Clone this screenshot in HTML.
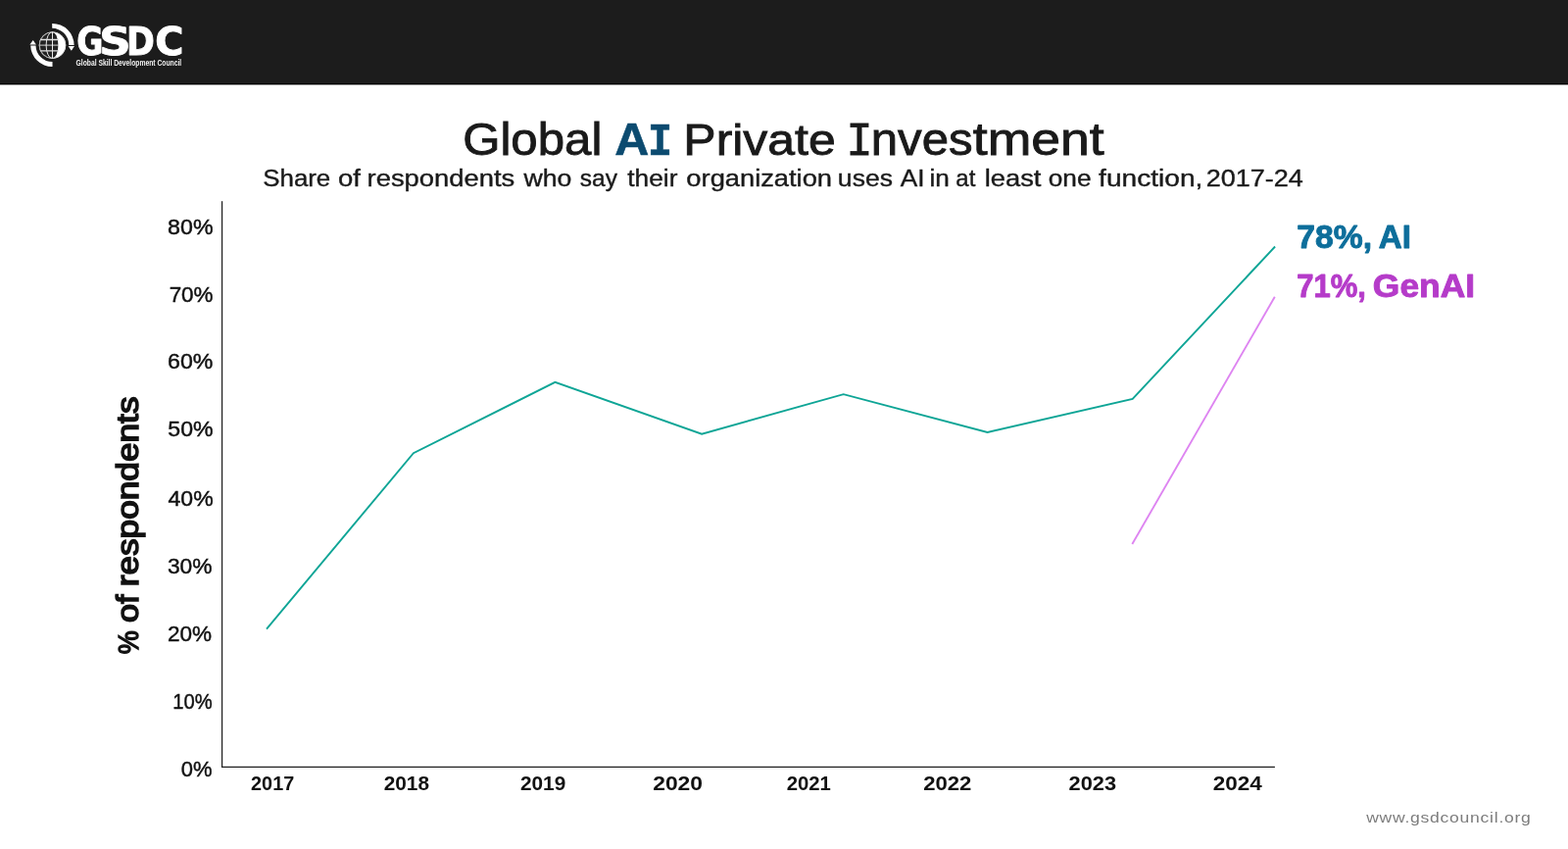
<!DOCTYPE html>
<html lang="en">
<head>
<meta charset="utf-8">
<title>Global AI Private Investment</title>
<style>
html,body{margin:0;padding:0;background:#fff;}
body{width:1600px;height:866px;overflow:hidden;position:relative;font-family:"Liberation Sans",sans-serif;}
svg{position:absolute;left:0;top:0;display:block;}
text{font-family:"Liberation Sans",sans-serif;white-space:pre;}
</style>
</head>
<body>
<svg width="1600" height="866" viewBox="0 0 1600 866">
  <!-- header bar -->
  <rect x="0" y="0" width="1600" height="85" fill="#1c1c1c"/>
  <rect x="0" y="85" width="1600" height="1" fill="#000"/>
  <rect x="0" y="86" width="1600" height="1" fill="#8a8a8a"/>
  <!-- logo icon -->
  <defs>
    <clipPath id="globeclip"><circle cx="53.5" cy="46.1" r="13.6"/></clipPath>
  </defs>
  <g id="logoicon">
    <circle cx="53.5" cy="46.1" r="13.7" fill="#fff"/>
    <g clip-path="url(#globeclip)">
      <ellipse cx="53.5" cy="46.1" rx="6.4" ry="13.6" fill="#222"/>
      <path d="M53.5,32.5 A13.6 13.6 0 0 0 53.5,59.7 Z" fill="#222"/>
      <ellipse cx="53.5" cy="46.1" rx="6.4" ry="13.6" fill="none" stroke="#fff" stroke-width="0.9"/>
      <line x1="53.5" y1="32" x2="53.5" y2="60" stroke="#fff" stroke-width="0.9"/>
      <line x1="39" y1="46.1" x2="60" y2="46.1" stroke="#fff" stroke-width="0.8"/>
      <line x1="39" y1="40.5" x2="60" y2="40.5" stroke="#e0e0e0" stroke-width="1.3"/>
      <line x1="39" y1="51.9" x2="60" y2="51.9" stroke="#e0e0e0" stroke-width="1.3"/>
    </g>
    <circle cx="53.5" cy="46.1" r="13.3" fill="none" stroke="#d8d8d8" stroke-width="0.8"/>
    <path d="M53.2,23.9 A22.2 22.2 0 0 1 75.6,45.9 L70.3,45.9 A17.2 17.2 0 0 0 53.2,28.8 Z" fill="#fff"/>
    <path d="M69.6,46.9 L76,46.9 L72.8,51.7 Z" fill="#fff"/>
    <path d="M31.2,46.4 A22.2 22.2 0 0 0 53.5,68.1 L53.5,63.1 A17.1 17.1 0 0 1 36.5,46.4 Z" fill="#fff"/>
    <path d="M30.4,45.4 L36.9,45.4 L33.7,41 Z" fill="#fff"/>
  </g>

  <!-- axes -->
  <rect id="yaxis" x="225.95" y="205.2" width="1.25" height="577.8" fill="#202020"/>
  <rect id="xaxis" x="225.95" y="781.75" width="1074.95" height="1.25" fill="#202020"/>
  <!-- data lines -->
  <polyline id="line_ai" fill="none" stroke="#0ea596" stroke-width="1.9" stroke-linejoin="miter" points="272,641.6 421.9,462.2 566.4,389.9 716.1,442.7 860.7,402.2 1007.6,440.9 1155.7,407 1301.1,251.5"/>
  <polyline id="line_gen" fill="none" stroke="#de85f1" stroke-width="1.9" points="1155.3,555 1300.8,302.8"/>
  <!-- text -->
  <text id="grp_gsdc"><tspan id="g_g" x="78.20" y="56.10" font-size="38.3" fill="#fff" textLength="27.19" lengthAdjust="spacingAndGlyphs" style="font-family:'DejaVu Sans','Liberation Sans',sans-serif;font-weight:bold;" stroke="#fff" stroke-width="0.9" stroke-linejoin="round">G</tspan><tspan id="g_s" x="101.21" y="56.10" font-size="38.3" fill="#fff" textLength="32.35" lengthAdjust="spacingAndGlyphs" style="font-family:'DejaVu Sans','Liberation Sans',sans-serif;font-weight:bold;" stroke="#fff" stroke-width="0.9" stroke-linejoin="round">S</tspan><tspan id="g_d" x="129.02" y="56.10" font-size="38.3" fill="#fff" textLength="28.89" lengthAdjust="spacingAndGlyphs" style="font-family:'DejaVu Sans','Liberation Sans',sans-serif;font-weight:bold;" stroke="#fff" stroke-width="0.9" stroke-linejoin="round">D</tspan><tspan id="g_c" x="158.15" y="56.10" font-size="38.3" fill="#fff" textLength="29.20" lengthAdjust="spacingAndGlyphs" style="font-family:'DejaVu Sans','Liberation Sans',sans-serif;font-weight:bold;" stroke="#fff" stroke-width="0.9" stroke-linejoin="round">C</tspan></text>
  <text id="grp_gsub"><tspan id="gsub" x="77.50" y="67.25" font-size="9" fill="#f2f2f2" textLength="107.75" lengthAdjust="spacingAndGlyphs" style="font-family:'Liberation Sans',sans-serif;font-weight:bold;">Global Skill Development Council</tspan></text>
  <text id="grp_title"><tspan id="t_global" x="472.19" y="157.60" font-size="45.3" fill="#1a1a1a" textLength="142.12" lengthAdjust="spacingAndGlyphs" style="font-family:'Liberation Sans',sans-serif;" stroke="#1a1a1a" stroke-width="0.85">Global</tspan> <tspan id="t_a" x="627.29" y="157.50" font-size="45.8" fill="#0c4b70" textLength="35.01" lengthAdjust="spacingAndGlyphs" style="font-family:'Liberation Sans',sans-serif;font-weight:bold;" stroke="#0c4b70" stroke-width="0.6">A</tspan><tspan id="t_i" x="660.93" y="157.50" font-size="47.0" fill="#0c4b70" textLength="25.02" lengthAdjust="spacingAndGlyphs" style="font-family:'Liberation Mono',monospace;font-weight:bold;" stroke="#0c4b70" stroke-width="0.6">I</tspan> <tspan id="t_private" x="697.33" y="157.60" font-size="45" fill="#1a1a1a" textLength="155.41" lengthAdjust="spacingAndGlyphs" style="font-family:'Liberation Sans',sans-serif;" stroke="#1a1a1a" stroke-width="0.85">Private</tspan> <tspan id="t_I" x="863.43" y="157.70" font-size="48.5" fill="#1a1a1a" textLength="27.00" lengthAdjust="spacingAndGlyphs" style="font-family:'Liberation Mono',monospace;" stroke="#1a1a1a" stroke-width="0.85">I</tspan><tspan id="t_nv" x="888.80" y="157.60" font-size="45.3" fill="#1a1a1a" textLength="103.76" lengthAdjust="spacingAndGlyphs" style="font-family:'Liberation Sans',sans-serif;" stroke="#1a1a1a" stroke-width="0.85">nves</tspan><tspan id="t_tm" x="992.77" y="157.60" font-size="45.3" fill="#1a1a1a" textLength="134.00" lengthAdjust="spacingAndGlyphs" style="font-family:'Liberation Sans',sans-serif;" stroke="#1a1a1a" stroke-width="0.85">tment</tspan></text>
  <text id="grp_subtitle"><tspan id="s0" x="268.26" y="190.00" font-size="24.8" fill="#1a1a1a" textLength="69.00" lengthAdjust="spacingAndGlyphs" style="font-family:'Liberation Sans',sans-serif;" stroke="#1a1a1a" stroke-width="0.4">Share</tspan> <tspan id="s1" x="344.97" y="190.00" font-size="24.8" fill="#1a1a1a" textLength="22.86" lengthAdjust="spacingAndGlyphs" style="font-family:'Liberation Sans',sans-serif;" stroke="#1a1a1a" stroke-width="0.4">of</tspan> <tspan id="s2" x="374.62" y="190.00" font-size="24.8" fill="#1a1a1a" textLength="150.62" lengthAdjust="spacingAndGlyphs" style="font-family:'Liberation Sans',sans-serif;" stroke="#1a1a1a" stroke-width="0.4">respondents</tspan> <tspan id="s3" x="534.45" y="190.00" font-size="24.8" fill="#1a1a1a" textLength="48.89" lengthAdjust="spacingAndGlyphs" style="font-family:'Liberation Sans',sans-serif;" stroke="#1a1a1a" stroke-width="0.4">who</tspan> <tspan id="s4" x="591.86" y="190.00" font-size="24.8" fill="#1a1a1a" textLength="38.14" lengthAdjust="spacingAndGlyphs" style="font-family:'Liberation Sans',sans-serif;" stroke="#1a1a1a" stroke-width="0.4">say</tspan> <tspan id="s5" x="640.32" y="190.00" font-size="24.8" fill="#1a1a1a" textLength="51.10" lengthAdjust="spacingAndGlyphs" style="font-family:'Liberation Sans',sans-serif;" stroke="#1a1a1a" stroke-width="0.4">their</tspan> <tspan id="s6" x="700.38" y="190.00" font-size="24.8" fill="#1a1a1a" textLength="148.65" lengthAdjust="spacingAndGlyphs" style="font-family:'Liberation Sans',sans-serif;" stroke="#1a1a1a" stroke-width="0.4">organization</tspan> <tspan id="s7" x="854.88" y="190.00" font-size="24.8" fill="#1a1a1a" textLength="56.04" lengthAdjust="spacingAndGlyphs" style="font-family:'Liberation Sans',sans-serif;" stroke="#1a1a1a" stroke-width="0.4">uses</tspan> <tspan id="s8" x="918.69" y="190.00" font-size="24.8" fill="#1a1a1a" textLength="24.77" lengthAdjust="spacingAndGlyphs" style="font-family:'Liberation Sans',sans-serif;" stroke="#1a1a1a" stroke-width="0.4">AI</tspan> <tspan id="s9" x="948.51" y="190.00" font-size="24.8" fill="#1a1a1a" textLength="20.39" lengthAdjust="spacingAndGlyphs" style="font-family:'Liberation Sans',sans-serif;" stroke="#1a1a1a" stroke-width="0.4">in</tspan> <tspan id="s10" x="975.36" y="190.00" font-size="24.8" fill="#1a1a1a" textLength="19.99" lengthAdjust="spacingAndGlyphs" style="font-family:'Liberation Sans',sans-serif;" stroke="#1a1a1a" stroke-width="0.4">at</tspan> <tspan id="s11" x="1004.71" y="190.00" font-size="24.8" fill="#1a1a1a" textLength="57.74" lengthAdjust="spacingAndGlyphs" style="font-family:'Liberation Sans',sans-serif;" stroke="#1a1a1a" stroke-width="0.4">least</tspan> <tspan id="s12" x="1069.77" y="190.00" font-size="24.8" fill="#1a1a1a" textLength="43.72" lengthAdjust="spacingAndGlyphs" style="font-family:'Liberation Sans',sans-serif;" stroke="#1a1a1a" stroke-width="0.4">one</tspan> <tspan id="s13" x="1121.14" y="190.00" font-size="24.8" fill="#1a1a1a" textLength="106.23" lengthAdjust="spacingAndGlyphs" style="font-family:'Liberation Sans',sans-serif;" stroke="#1a1a1a" stroke-width="0.4">function,</tspan> <tspan id="s14" x="1230.84" y="190.00" font-size="24.8" fill="#1a1a1a" textLength="99.07" lengthAdjust="spacingAndGlyphs" style="font-family:'Liberation Sans',sans-serif;" stroke="#1a1a1a" stroke-width="0.4">2017-24</tspan></text>
  <text id="grp_y0"><tspan id="y0" x="171.12" y="239.20" font-size="22.8" fill="#111" textLength="46.40" lengthAdjust="spacingAndGlyphs" style="font-family:'Liberation Sans',sans-serif;" stroke="#111" stroke-width="0.45">80%</tspan></text>
  <text id="grp_y1"><tspan id="y1" x="172.65" y="307.90" font-size="22.8" fill="#111" textLength="44.91" lengthAdjust="spacingAndGlyphs" style="font-family:'Liberation Sans',sans-serif;" stroke="#111" stroke-width="0.45">70%</tspan></text>
  <text id="grp_y2"><tspan id="y2" x="171.10" y="375.80" font-size="22.8" fill="#111" textLength="46.37" lengthAdjust="spacingAndGlyphs" style="font-family:'Liberation Sans',sans-serif;" stroke="#111" stroke-width="0.45">60%</tspan></text>
  <text id="grp_y3"><tspan id="y3" x="171.31" y="445.10" font-size="22.8" fill="#111" textLength="46.26" lengthAdjust="spacingAndGlyphs" style="font-family:'Liberation Sans',sans-serif;" stroke="#111" stroke-width="0.45">50%</tspan></text>
  <text id="grp_y4"><tspan id="y4" x="171.51" y="515.80" font-size="22.8" fill="#111" textLength="46.13" lengthAdjust="spacingAndGlyphs" style="font-family:'Liberation Sans',sans-serif;" stroke="#111" stroke-width="0.45">40%</tspan></text>
  <text id="grp_y5"><tspan id="y5" x="170.95" y="585.10" font-size="22.8" fill="#111" textLength="45.66" lengthAdjust="spacingAndGlyphs" style="font-family:'Liberation Sans',sans-serif;" stroke="#111" stroke-width="0.45">30%</tspan></text>
  <text id="grp_y6"><tspan id="y6" x="170.99" y="653.90" font-size="22.8" fill="#111" textLength="45.09" lengthAdjust="spacingAndGlyphs" style="font-family:'Liberation Sans',sans-serif;" stroke="#111" stroke-width="0.45">20%</tspan></text>
  <text id="grp_y7"><tspan id="y7" x="176.30" y="723.30" font-size="22.8" fill="#111" textLength="40.40" lengthAdjust="spacingAndGlyphs" style="font-family:'Liberation Sans',sans-serif;" stroke="#111" stroke-width="0.45">10%</tspan></text>
  <text id="grp_y8"><tspan id="y8" x="184.68" y="791.90" font-size="22.8" fill="#111" textLength="31.76" lengthAdjust="spacingAndGlyphs" style="font-family:'Liberation Sans',sans-serif;" stroke="#111" stroke-width="0.45">0%</tspan></text>
  <text id="grp_x0"><tspan id="x0" x="256.12" y="805.50" font-size="20.4" fill="#111" textLength="44.05" lengthAdjust="spacingAndGlyphs" style="font-family:'Liberation Sans',sans-serif;font-weight:bold;">2017</tspan></text>
  <text id="grp_x1"><tspan id="x1" x="391.75" y="805.50" font-size="20.4" fill="#111" textLength="46.24" lengthAdjust="spacingAndGlyphs" style="font-family:'Liberation Sans',sans-serif;font-weight:bold;">2018</tspan></text>
  <text id="grp_x2"><tspan id="x2" x="530.96" y="805.50" font-size="20.4" fill="#111" textLength="46.27" lengthAdjust="spacingAndGlyphs" style="font-family:'Liberation Sans',sans-serif;font-weight:bold;">2019</tspan></text>
  <text id="grp_x3"><tspan id="x3" x="666.21" y="805.50" font-size="20.4" fill="#111" textLength="50.79" lengthAdjust="spacingAndGlyphs" style="font-family:'Liberation Sans',sans-serif;font-weight:bold;">2020</tspan></text>
  <text id="grp_x4"><tspan id="x4" x="802.68" y="805.50" font-size="20.4" fill="#111" textLength="45.12" lengthAdjust="spacingAndGlyphs" style="font-family:'Liberation Sans',sans-serif;font-weight:bold;">2021</tspan></text>
  <text id="grp_x5"><tspan id="x5" x="942.28" y="805.50" font-size="20.4" fill="#111" textLength="49.14" lengthAdjust="spacingAndGlyphs" style="font-family:'Liberation Sans',sans-serif;font-weight:bold;">2022</tspan></text>
  <text id="grp_x6"><tspan id="x6" x="1090.63" y="805.50" font-size="20.4" fill="#111" textLength="48.45" lengthAdjust="spacingAndGlyphs" style="font-family:'Liberation Sans',sans-serif;font-weight:bold;">2023</tspan></text>
  <text id="grp_x7"><tspan id="x7" x="1237.73" y="805.50" font-size="20.4" fill="#111" textLength="49.97" lengthAdjust="spacingAndGlyphs" style="font-family:'Liberation Sans',sans-serif;font-weight:bold;">2024</tspan></text>
  <text id="grp_r_ai"><tspan id="r_ai1" x="1323.28" y="253.40" font-size="32.4" fill="#0d6e9b" textLength="76.78" lengthAdjust="spacingAndGlyphs" style="font-family:'Liberation Sans',sans-serif;font-weight:bold;" stroke="#0d6e9b" stroke-width="0.9" stroke-linejoin="round">78%,</tspan> <tspan id="r_ai2" x="1406.71" y="253.40" font-size="32.4" fill="#0d6e9b" textLength="33.16" lengthAdjust="spacingAndGlyphs" style="font-family:'Liberation Sans',sans-serif;font-weight:bold;" stroke="#0d6e9b" stroke-width="0.9" stroke-linejoin="round">AI</tspan></text>
  <text id="grp_r_gen"><tspan id="r_gen1" x="1323.32" y="303.30" font-size="32.4" fill="#b53bc9" textLength="70.62" lengthAdjust="spacingAndGlyphs" style="font-family:'Liberation Sans',sans-serif;font-weight:bold;" stroke="#b53bc9" stroke-width="0.9" stroke-linejoin="round">71%,</tspan> <tspan id="r_gen2" x="1400.88" y="303.30" font-size="32.4" fill="#b53bc9" textLength="104.23" lengthAdjust="spacingAndGlyphs" style="font-family:'Liberation Sans',sans-serif;font-weight:bold;" stroke="#b53bc9" stroke-width="0.9" stroke-linejoin="round">GenAI</tspan></text>
  <text id="grp_foot"><tspan id="foot" x="1394.19" y="839.40" font-size="14.5" fill="#7d7d7d" textLength="168.40" lengthAdjust="spacingAndGlyphs" style="font-family:'Liberation Sans',sans-serif;" letter-spacing="0.6">www.gsdcouncil.org</tspan></text>
  <text id="grp_ytitle" transform="translate(141.8,667) rotate(-90)"><tspan id="yt_pct" x="-0.35" y="-0.60" font-size="30" fill="#111" textLength="23.97" lengthAdjust="spacingAndGlyphs" style="font-family:'Liberation Sans',sans-serif;" stroke="#111" stroke-width="1.5" stroke-linejoin="miter">%</tspan> <tspan id="yt_of" x="31.96" y="-0.60" font-size="31" fill="#111" textLength="28.49" lengthAdjust="spacingAndGlyphs" style="font-family:'Liberation Sans',sans-serif;" stroke="#111" stroke-width="1.5" stroke-linejoin="miter">of</tspan> <tspan id="yt_resp" x="68.69" y="-0.60" font-size="31" fill="#111" textLength="193.81" lengthAdjust="spacingAndGlyphs" style="font-family:'Liberation Sans',sans-serif;" stroke="#111" stroke-width="1.5" stroke-linejoin="miter">respondents</tspan></text>
</svg>
</body>
</html>
